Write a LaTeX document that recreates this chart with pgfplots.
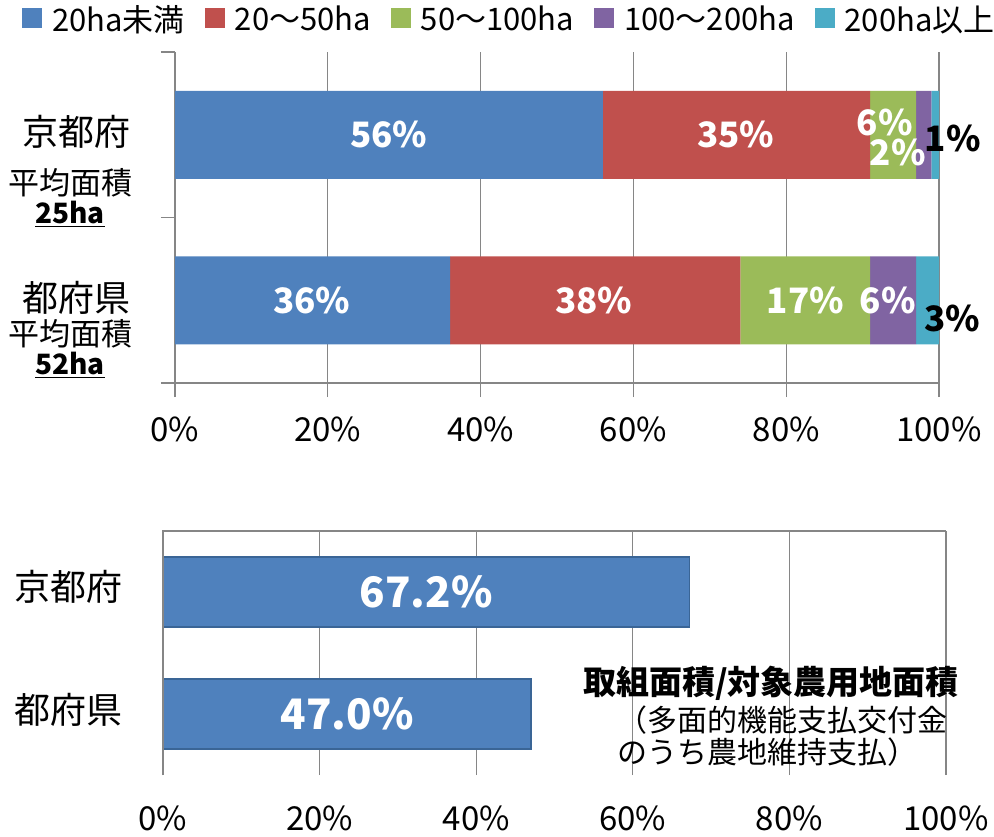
\documentclass[border=0pt]{standalone}
\usepackage{pgfplots}
\pgfplotsset{compat=1.18}
\usepackage{fontspec}
\setmainfont{Noto Sans CJK JP}
\definecolor{c1}{HTML}{4F81BD}
\definecolor{c2}{HTML}{C0504D}
\definecolor{c3}{HTML}{9BBB59}
\definecolor{c4}{HTML}{8064A2}
\definecolor{c5}{HTML}{4BACC6}
\definecolor{gridc}{HTML}{868686}
\definecolor{bordc}{HTML}{3A6596}
\newcommand{\myfsz}[1]{\fontsize{#1bp}{#1bp}\selectfont}
\begin{document}
\begin{tikzpicture}
\useasboundingbox (0,0) rectangle (994bp,-837bp);
% ---------------- top chart ----------------
\begin{axis}[
  at={(175bp,-383bp)}, anchor=south west,
  scale only axis, width=764bp, height=331bp,
  xbar stacked, bar width=88bp,
  xmin=0, xmax=100, ymin=0, ymax=2,
  axis x line*=bottom, axis y line*=left,
  axis line style={gridc, line width=1.2bp, -},
  xtick={0,20,...,100}, ytick={0,1,2}, yticklabels={},
  tick align=outside, major tick length=14bp,
  tick style={gridc, line width=1.2bp},
  xmajorgrids, grid style={gridc, line width=1.2bp},
  xticklabel={\pgfmathprintnumber{\tick}\%},
  /pgf/number format/assume math mode=true,
  tick label style={font=\myfsz{33}},
  xticklabel style={anchor=center, yshift=-32bp},
  legend columns=5,
  legend style={at={(-0.2003,1.142)}, anchor=north west, draw=none, inner sep=0pt,
    nodes={inner sep=0pt},
    font=\myfsz{31},
    /tikz/every odd column/.append style={column sep=10bp},
    /tikz/every even column/.append style={column sep=20bp}},
  legend image code/.code={\fill[#1] (0bp,-9bp) rectangle (20bp,11bp);},
  clip=false,
]
\addplot[fill=c1, draw=none] coordinates {(56,1.5) (36,0.5)};
\addplot[fill=c2, draw=none] coordinates {(35,1.5) (38,0.5)};
\addplot[fill=c3, draw=none] coordinates {(6,1.5) (17,0.5)};
\addplot[fill=c4, draw=none] coordinates {(2,1.5) (6,0.5)};
\addplot[fill=c5, draw=none] coordinates {(1,1.5) (3,0.5)};
\legend{20ha未満, 20～50ha, 50～100ha, 100～200ha, 200ha以上}
\coordinate (a1) at (axis cs:28,1.5);
\coordinate (a2) at (axis cs:73.4,1.5);
\coordinate (a3) at (axis cs:92.9,1.577);
\coordinate (a4) at (axis cs:94.6,1.39);
\coordinate (a5) at (axis cs:101.8,1.48);
\coordinate (b1) at (axis cs:17.9,0.5);
\coordinate (b2) at (axis cs:54.8,0.5);
\coordinate (b3) at (axis cs:82.5,0.5);
\coordinate (b4) at (axis cs:93.3,0.5);
\coordinate (b5) at (axis cs:101.7,0.39);
\end{axis}
\begin{scope}[every node/.style={font=\bfseries\myfsz{35}, text=white, inner sep=0pt}]
\node at (a1) {56\%};
\node at (a2) {35\%};
\node at (a3) {6\%};
\node at (a4) {2\%};
\node[text=black] at (a5) {1\%};
\node at (b1) {36\%};
\node at (b2) {38\%};
\node at (b3) {17\%};
\node at (b4) {6\%};
\node[text=black] at (b5) {3\%};
\end{scope}
% y category labels (top)
\node[font=\myfsz{36}, inner sep=0pt] at (76bp,-132bp) {京都府};
\node[font=\myfsz{31}, inner sep=0pt] at (70bp,-183bp) {平均面積};
\node[font=\bfseries\myfsz{28}, inner sep=0pt] at (70bp,-214bp) {\underline{25ha}};
\node[font=\myfsz{36}, inner sep=0pt] at (76bp,-298bp) {都府県};
\node[font=\myfsz{31}, inner sep=0pt] at (70bp,-334bp) {平均面積};
\node[font=\bfseries\myfsz{28}, inner sep=0pt] at (70bp,-365bp) {\underline{52ha}};
% ---------------- bottom chart ----------------
\begin{axis}[
  at={(163bp,-775bp)}, anchor=south west,
  scale only axis, width=783bp, height=244bp,
  xbar, bar width=70bp,
  xmin=0, xmax=100, ymin=0, ymax=2,
  axis line style={draw=none},
  xtick={0,20,...,100}, ytick=\empty,
  major tick length=0pt,
  xmajorgrids, grid style={gridc, line width=1.2bp},
  xticklabel={\pgfmathprintnumber{\tick}\%},
  /pgf/number format/assume math mode=true,
  tick label style={font=\myfsz{33}},
  xticklabel style={anchor=center, yshift=-43bp},
  clip=false,
]
\addplot[fill=c1, draw=bordc, line width=1.2bp] coordinates {(67.2,1.5) (47.0,0.5)};
\draw[gridc, line width=1.2bp] (axis cs:0,0) -- (axis cs:0,2) -- (axis cs:100,2);
\node[font=\bfseries\myfsz{42}, text=white, inner sep=0pt] at (axis cs:33.6,1.5) {67.2\%};
\node[font=\bfseries\myfsz{42}, text=white, inner sep=0pt] at (axis cs:23.5,0.5) {47.0\%};
\end{axis}
\node[font=\myfsz{36}, inner sep=0pt] at (68bp,-587bp) {京都府};
\node[font=\myfsz{36}, inner sep=0pt] at (68bp,-710bp) {都府県};
\node[font=\bfseries\myfsz{33}, inner sep=0pt] at (771bp,-683bp) {取組面積/対象農用地面積};
\node[font=\myfsz{30}, inner sep=0pt, anchor=west] at (617bp,-720bp) {（多面的機能支払交付金};
\node[font=\myfsz{30}, inner sep=0pt, anchor=west] at (617bp,-752bp) {のうち農地維持支払）};
\end{tikzpicture}
\end{document}
